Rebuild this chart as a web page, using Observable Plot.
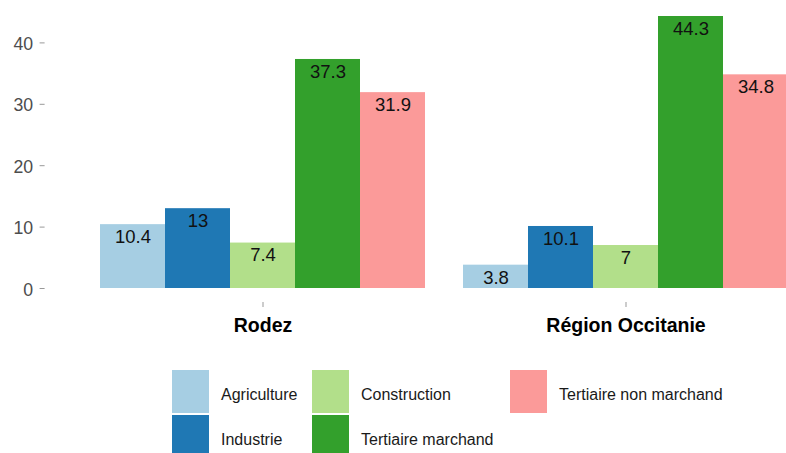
<!DOCTYPE html>
<html>
<head>
<meta charset="utf-8">
<script src="https://cdn.jsdelivr.net/npm/d3@7"></script>
<script src="https://cdn.jsdelivr.net/npm/@observablehq/plot@0.6"></script>
<style>
  html, body { margin: 0; padding: 0; background: #fff; overflow: hidden; }
  body { width: 786px; height: 453px; font-family: "Liberation Sans", Arial, sans-serif; }
  #legend {
    display: grid;
    grid-template-rows: 43px 43px;
    grid-template-columns: 140px 198px auto;
    grid-auto-flow: column;
    row-gap: 2px;
    margin-left: 172px;
    margin-top: 25px;
    font-size: 16px;
    color: #1a1a1a;
  }
  .item { display: flex; align-items: center; }
  .sw { width: 37px; height: 43px; margin-right: 12px; flex: none; }
  .lab { padding-top: 6px; white-space: nowrap; }
</style>
</head>
<body>
<div id="chart"></div>
<div id="legend"></div>
<script>
const regions = ["Rodez", "Région Occitanie"];
const sectors = ["Agriculture", "Industrie", "Construction", "Tertiaire marchand", "Tertiaire non marchand"];
const rodezValues = [10.4, 13, 7.4, 37.3, 31.9];
const occitanieValues = [3.8, 10.1, 7, 44.3, 34.8];
const colors = ["#a6cee3", "#1f78b4", "#b2df8a", "#33a02c", "#fb9a99"];
const yTicks = [0, 10, 20, 30, 40];

const data = [];
[rodezValues, occitanieValues].forEach((vals, ri) => {
  vals.forEach((v, si) => data.push({region: regions[ri], sector: sectors[si], value: v}));
});

// offset from first facet's left edge back to the panel's left edge
const axisShift = -54.4;

const chart = Plot.plot({
  width: 786,
  height: 345,
  marginLeft: 45,
  marginRight: 0,
  marginTop: 2,
  marginBottom: 43,
  style: {fontFamily: "'Liberation Sans', Arial, sans-serif", background: "#fff", overflow: "hidden"},
  fx: {domain: regions, range: [44.9, 843.5], paddingInner: 0.1, paddingOuter: 0.15, label: null},
  x: {domain: sectors, padding: 0, axis: null},
  y: {domain: [-2.215, 46.515], range: [301.6, 2.4], label: null},
  color: {domain: sectors, range: colors},
  marks: [
    Plot.barY(data, {fx: "region", x: "sector", y: "value", fill: "sector"}),
    Plot.text(data, {fx: "region", x: "sector", y: "value", text: d => String(d.value),
      dy: 12.5, lineAnchor: "middle", fontSize: 18.5, fill: "#111"}),
    Plot.axisY({ticks: yTicks, tickSize: 5, text: null, stroke: "#999", dx: axisShift, label: null}),
    Plot.axisY({ticks: yTicks, tickSize: 0, tickPadding: 12, fontSize: 17.7, fill: "#4d4d4d", dx: axisShift, dy: 1.5, label: null}),
    Plot.axisFx({anchor: "bottom", tickSize: 5, text: null, stroke: "#999", label: null}),
    Plot.axisFx({anchor: "bottom", tickSize: 0, tickPadding: 15.7, fontSize: 19.5, fontWeight: "bold", fill: "#000", label: null})
  ]
});
document.getElementById("chart").appendChild(chart);

const legend = document.getElementById("legend");
sectors.forEach((s, i) => {
  const item = document.createElement("div");
  item.className = "item";
  const sw = document.createElement("div");
  sw.className = "sw";
  sw.style.background = colors[i];
  const lab = document.createElement("span");
  lab.className = "lab";
  lab.textContent = s;
  item.appendChild(sw);
  item.appendChild(lab);
  legend.appendChild(item);
});
</script>
</body>
</html>
